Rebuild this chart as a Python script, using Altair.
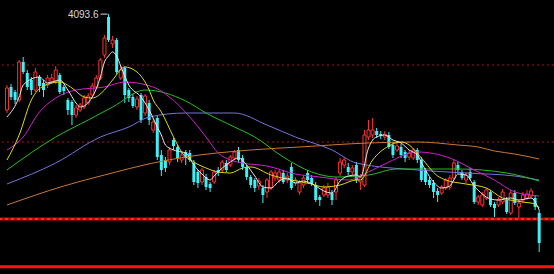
import altair as alt
import pandas as pd

# Daily candles (index order), prices in index points
opens = [3710, 3802, 3782, 3750, 3902, 3858, 3830, 3790, 3842, 3818,
         3810, 3822, 3822, 3850, 3802, 3750, 3742, 3690, 3710, 3722,
         3738, 3770, 3802, 3838, 3930, 4082, 3974, 3990, 3838, 3878,
         3790, 3762, 3722, 3770, 3698, 3738, 3630, 3678, 3530, 3510,
         3502, 3590, 3562, 3510, 3542, 3538, 3498, 3462, 3422, 3442,
         3414, 3422, 3470, 3470, 3498, 3490, 3518, 3550, 3518, 3482,
         3442, 3430, 3406, 3398, 3382, 3398, 3438, 3430, 3458, 3430,
         3482, 3418, 3382, 3410, 3458, 3438, 3410, 3362, 3370, 3370,
         3378, 3382, 3458, 3490, 3482, 3462, 3490, 3422, 3410, 3602,
         3610, 3626, 3614, 3602, 3610, 3570, 3550, 3562, 3542, 3522,
         3518, 3550, 3510, 3470, 3430, 3418, 3386, 3378, 3398, 3402,
         3438, 3490, 3462, 3430, 3462, 3422, 3342, 3330, 3358, 3382,
         3334, 3330, 3342, 3350, 3298, 3378, 3322, 3350, 3358, 3366,
         3358, 3298]
closes = [3798, 3762, 3750, 3902, 3862, 3802, 3790, 3862, 3806, 3790,
          3838, 3838, 3870, 3782, 3786, 3710, 3690, 3718, 3730, 3758,
          3766, 3806, 3838, 3910, 3998, 3990, 3990, 3862, 3870, 3770,
          3758, 3726, 3754, 3670, 3766, 3670, 3662, 3522, 3470, 3478,
          3550, 3566, 3518, 3530, 3518, 3510, 3422, 3418, 3470, 3402,
          3398, 3462, 3458, 3502, 3470, 3522, 3542, 3510, 3482, 3442,
          3410, 3398, 3426, 3370, 3430, 3462, 3458, 3462, 3422, 3446,
          3398, 3430, 3418, 3438, 3430, 3414, 3350, 3350, 3398, 3402,
          3350, 3430, 3502, 3510, 3462, 3478, 3430, 3442, 3610, 3630,
          3630, 3610, 3606, 3614, 3562, 3530, 3566, 3530, 3518, 3538,
          3550, 3510, 3430, 3422, 3410, 3382, 3370, 3402, 3430, 3438,
          3498, 3470, 3438, 3450, 3438, 3342, 3362, 3370, 3390, 3330,
          3318, 3350, 3382, 3302, 3378, 3338, 3338, 3370, 3374, 3386,
          3322, 3178]
highs = [3810, 3814, 3790, 3910, 3922, 3870, 3842, 3878, 3850, 3830,
         3850, 3854, 3886, 3858, 3810, 3758, 3750, 3730, 3738, 3770,
         3778, 3818, 3850, 3918, 4010, 4093.6, 4006, 3998, 3886, 3886,
         3798, 3774, 3766, 3778, 3774, 3750, 3678, 3686, 3550, 3522,
         3562, 3598, 3570, 3542, 3550, 3550, 3510, 3470, 3478, 3454,
         3422, 3470, 3482, 3510, 3510, 3530, 3550, 3562, 3530, 3490,
         3450, 3438, 3438, 3410, 3438, 3470, 3470, 3470, 3470, 3458,
         3498, 3442, 3430, 3450, 3470, 3450, 3422, 3370, 3410, 3418,
         3390, 3442, 3518, 3522, 3498, 3490, 3502, 3454, 3630, 3670,
         3678, 3638, 3626, 3626, 3622, 3582, 3578, 3574, 3550, 3550,
         3558, 3558, 3522, 3478, 3442, 3430, 3398, 3410, 3438, 3450,
         3510, 3502, 3470, 3462, 3478, 3430, 3370, 3382, 3398, 3390,
         3342, 3362, 3394, 3362, 3390, 3390, 3350, 3382, 3390, 3398,
         3370, 3310]
lows = [3698, 3750, 3734, 3742, 3854, 3790, 3770, 3782, 3782, 3762,
        3798, 3814, 3814, 3774, 3770, 3690, 3650, 3678, 3702, 3714,
        3730, 3762, 3794, 3830, 3918, 3982, 3958, 3854, 3830, 3738,
        3742, 3718, 3710, 3658, 3686, 3650, 3618, 3510, 3446, 3462,
        3490, 3550, 3502, 3498, 3490, 3502, 3410, 3398, 3410, 3390,
        3382, 3414, 3446, 3462, 3462, 3482, 3510, 3498, 3470, 3430,
        3398, 3382, 3390, 3338, 3358, 3390, 3426, 3418, 3414, 3418,
        3390, 3406, 3370, 3398, 3418, 3406, 3342, 3326, 3362, 3358,
        3330, 3350, 3446, 3478, 3450, 3446, 3418, 3390, 3402, 3590,
        3598, 3598, 3594, 3590, 3554, 3518, 3542, 3518, 3502, 3510,
        3510, 3498, 3422, 3410, 3398, 3358, 3342, 3370, 3390, 3390,
        3430, 3458, 3430, 3418, 3430, 3334, 3330, 3322, 3350, 3322,
        3282, 3322, 3334, 3294, 3290, 3330, 3278, 3338, 3350, 3358,
        3310, 3142]

# Moving-average curves: sampled (day index, value) pairs
ma5_idx = [0, 3, 4, 8, 10, 13, 15, 17, 18, 21, 23, 24, 25, 26, 27, 28, 30, 33,
           35, 37, 38, 39, 41, 43, 44, 46, 48, 50, 51, 53, 55, 57, 59, 61, 63,
           65, 67, 69, 71, 73, 76, 78, 80, 82, 84, 86, 87, 89, 90, 91, 93, 95,
           97, 99, 101, 103, 105, 107, 109, 110, 111, 113, 115, 117, 119, 121,
           124, 126, 129, 131]
ma5_val = [3682, 3762, 3810, 3842, 3818, 3830, 3790, 3738, 3722, 3762, 3842,
           3902, 3926, 3942, 3926, 3886, 3810, 3762, 3710, 3642, 3610, 3570,
           3550, 3542, 3538, 3490, 3454, 3430, 3446, 3478, 3502, 3518, 3490,
           3446, 3402, 3398, 3426, 3438, 3418, 3426, 3406, 3386, 3378, 3426,
           3446, 3450, 3442, 3558, 3590, 3602, 3610, 3590, 3578, 3550, 3530,
           3470, 3422, 3398, 3406, 3430, 3454, 3450, 3406, 3374, 3354, 3350,
           3358, 3350, 3358, 3310]
ma10_idx = [0, 3, 6, 9, 13, 16, 19, 21, 24, 26, 29, 32, 35, 36, 38, 41, 43, 46,
            49, 52, 55, 58, 60, 65, 70, 75, 78, 82, 86, 87, 90, 94, 97, 99, 102,
            106, 108, 113, 118, 122, 127, 130, 131]
ma10_val = [3510, 3610, 3750, 3806, 3822, 3798, 3762, 3758, 3790, 3830, 3882,
            3862, 3790, 3750, 3702, 3602, 3542, 3502, 3478, 3462, 3458, 3478,
            3482, 3450, 3430, 3414, 3402, 3410, 3430, 3430, 3510, 3566, 3582,
            3570, 3518, 3446, 3430, 3414, 3398, 3358, 3342, 3334, 3318]
ma20_idx = [0, 4, 8, 12, 17, 24, 29, 36, 40, 45, 49, 52, 55, 58, 64, 71, 77, 84,
            89, 94, 101, 109, 115, 120, 125, 131]
ma20_val = [3550, 3602, 3702, 3758, 3790, 3802, 3822, 3802, 3762, 3682, 3602,
            3538, 3510, 3498, 3486, 3454, 3442, 3430, 3462, 3502, 3542, 3518,
            3470, 3430, 3382, 3366]
ma30_idx = [0, 12, 20, 26, 34, 44, 49, 56, 61, 68, 75, 81, 89, 96, 111, 123, 131]
ma30_val = [3470, 3602, 3670, 3722, 3790, 3746, 3698, 3642, 3602, 3522, 3462,
            3442, 3450, 3474, 3474, 3458, 3426]
ma60_idx = [0, 12, 23, 30, 35, 44, 56, 64, 71, 80, 86, 101, 113, 125, 131]
ma60_val = [3414, 3498, 3602, 3642, 3682, 3698, 3698, 3650, 3602, 3550, 3498,
            3470, 3458, 3446, 3430]
ma120_idx = [0, 14, 24, 36, 44, 60, 72, 89, 101, 111, 116, 120, 125, 131]
ma120_val = [3330, 3406, 3450, 3498, 3522, 3550, 3562, 3578, 3582, 3570, 3562,
             3546, 3534, 3514]

# Reference price levels
dashed_levels = [3890, 3582]
support_level = 3274
bottom_level = 3083

peak_label = "4093.6"

RED = "#ff3030"
CYAN = "#3ef0f8"

df = pd.DataFrame({"i": range(len(opens)), "open": opens, "high": highs,
                   "low": lows, "close": closes})
df["top"] = df[["open", "close"]].max(axis=1)
df["bot"] = df[["open", "close"]].min(axis=1)
df["dir"] = ["up" if c >= o else "down" for o, c in zip(opens, closes)]

xs = alt.Scale(domain=[-0.483, 133.417], nice=False, zero=False)
ys = alt.Scale(domain=[3054, 4150], nice=False, zero=False)
X = alt.X("i:Q", scale=xs, axis=None)

base = alt.Chart(df)
col = alt.Color("dir:N", scale=alt.Scale(domain=["up", "down"], range=[RED, CYAN]),
                legend=None)

upper_wick = base.mark_rule(strokeWidth=1).encode(
    x=X, y=alt.Y("high:Q", scale=ys, axis=None), y2="top:Q", color=col)
lower_wick = base.mark_rule(strokeWidth=1).encode(
    x=X, y=alt.Y("bot:Q", scale=ys, axis=None), y2="low:Q", color=col)
up_body = base.transform_filter(alt.datum.dir == "up").mark_bar(
    size=3, fill="#000000", stroke=RED, strokeWidth=1).encode(
    x=X, y=alt.Y("open:Q", scale=ys, axis=None), y2="close:Q")
down_body = base.transform_filter(alt.datum.dir == "down").mark_bar(
    size=3, color=CYAN).encode(
    x=X, y=alt.Y("open:Q", scale=ys, axis=None), y2="close:Q")

ma_specs = [
    (ma120_idx, ma120_val, "#c87834"),
    (ma60_idx, ma60_val, "#7474dc"),
    (ma30_idx, ma30_val, "#22c022"),
    (ma20_idx, ma20_val, "#d020d0"),
    (ma10_idx, ma10_val, "#dcdc10"),
    (ma5_idx, ma5_val, "#e8e8e8"),
]
ma_layers = []
for idx, val, color in ma_specs:
    mdf = pd.DataFrame({"i": idx, "v": val})
    ma_layers.append(alt.Chart(mdf).mark_line(
        color=color, strokeWidth=1, interpolate="monotone").encode(
        x=X, y=alt.Y("v:Q", scale=ys, axis=None)))

dashed = alt.Chart(pd.DataFrame({"v": dashed_levels})).mark_rule(
    color="#a01818", strokeWidth=1, strokeDash=[2, 3]).encode(
    y=alt.Y("v:Q", scale=ys, axis=None))
support = alt.Chart(pd.DataFrame({"v": [support_level]})).mark_rule(
    color="#d80000", strokeWidth=3).encode(y=alt.Y("v:Q", scale=ys, axis=None))
support_dots = alt.Chart(pd.DataFrame({"v": [support_level]})).mark_rule(
    color="#ff6060", strokeWidth=1, strokeDash=[3, 3]).encode(
    y=alt.Y("v:Q", scale=ys, axis=None))
bottom = alt.Chart(pd.DataFrame({"v": [bottom_level]})).mark_rule(
    color="#ff1010", strokeWidth=3).encode(y=alt.Y("v:Q", scale=ys, axis=None))

peak_i = highs.index(max(highs))
peak_df = pd.DataFrame({"i": [peak_i], "v": [max(highs)], "t": [peak_label]})
peak_text = alt.Chart(peak_df).mark_text(
    align="right", baseline="middle", dx=-10, dy=1, fontSize=10,
    font="Liberation Sans", color="#d8d8d8").encode(
    x=X, y=alt.Y("v:Q", scale=ys, axis=None), text="t:N")
peak_tick = alt.Chart(peak_df).mark_rule(
    color="#d8d8d8", strokeWidth=1, xOffset=-8, x2Offset=-1).encode(
    x=X, x2="i:Q", y=alt.Y("v:Q", scale=ys, axis=None))

chart = alt.layer(
    dashed, support, support_dots, bottom,
    upper_wick, lower_wick, up_body, down_body,
    *ma_layers, peak_tick, peak_text,
).properties(
    width=554, height=274, background="#000000", padding=0,
    autosize=alt.AutoSizeParams(type="none"),
).configure_view(stroke=None)

chart.save("out.html", embed_options={"renderer": "svg", "actions": False})
